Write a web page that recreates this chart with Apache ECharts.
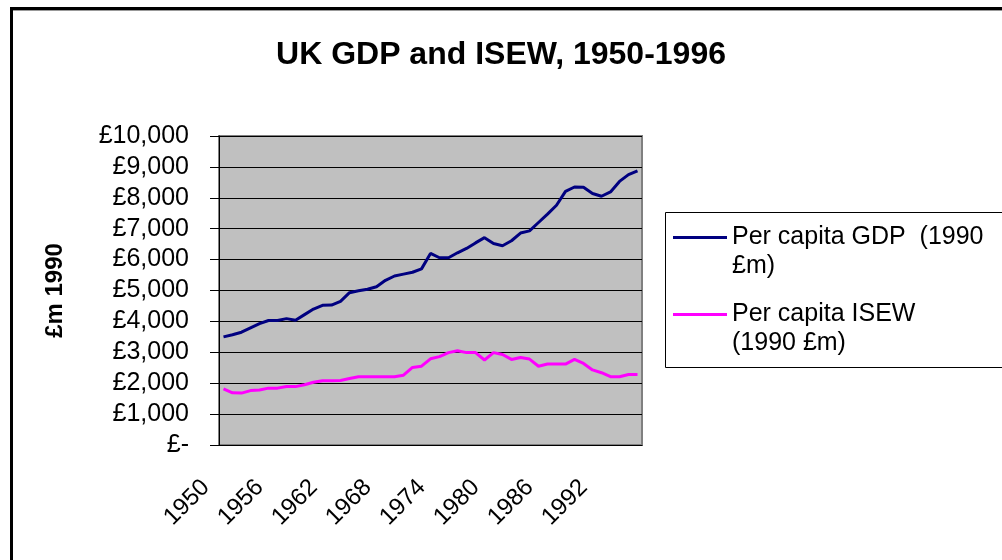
<!DOCTYPE html>
<html>
<head>
<meta charset="utf-8">
<script src="https://cdn.jsdelivr.net/npm/echarts@6/dist/echarts.min.js"></script>
<style>
  html, body { margin: 0; padding: 0; background: #fff; }
  #chart { width: 1002px; height: 560px; }
</style>
</head>
<body>
<div id="chart"></div>
<script>
// Data
var years = ['1950', '1951', '1952', '1953', '1954', '1955', '1956', '1957', '1958', '1959',
             '1960', '1961', '1962', '1963', '1964', '1965', '1966', '1967', '1968', '1969',
             '1970', '1971', '1972', '1973', '1974', '1975', '1976', '1977', '1978', '1979',
             '1980', '1981', '1982', '1983', '1984', '1985', '1986', '1987', '1988', '1989',
             '1990', '1991', '1992', '1993', '1994', '1995', '1996'];

var gdpPerCapita = [3500, 3570, 3650, 3790, 3930, 4030, 4030, 4090, 4040, 4220,
                    4400, 4520, 4530, 4650, 4930, 4990, 5040, 5120, 5330, 5470,
                    5530, 5590, 5700, 6200, 6060, 6060, 6220, 6360, 6540, 6710,
                    6520, 6450, 6610, 6860, 6930, 7200, 7470, 7760, 8210, 8350,
                    8340, 8140, 8050, 8190, 8530, 8750, 8870];

var isewPerCapita = [1820, 1690, 1680, 1760, 1780, 1840, 1840, 1890, 1890, 1950,
                     2030, 2080, 2080, 2090, 2150, 2210, 2210, 2210, 2210, 2210,
                     2260, 2510, 2550, 2790, 2860, 2990, 3050, 2990, 2990, 2750,
                     2990, 2930, 2770, 2830, 2780, 2550, 2620, 2620, 2620, 2770,
                     2640, 2430, 2340, 2210, 2210, 2280, 2280];

var seriesNames = ['Per capita GDP (1990 £m)', 'Per capita ISEW (1990 £m)'];
// leading blank line keeps the icon level with the first text line
var legendLabels = ['\nPer capita GDP  (1990\n£m)', '\nPer capita ISEW\n(1990 £m)'];

var FONT = '"Liberation Sans", Arial, sans-serif';

var myChart = echarts.init(document.getElementById('chart'));

var option = {
    backgroundColor: '#fff',
    animation: false,
    title: {
        text: 'UK GDP and ISEW, 1950-1996',
        left: 'center',
        top: 34,
        textStyle: { fontFamily: FONT, fontSize: 32, fontWeight: 'bold', color: '#000' }
    },
    // outer frame and legend box
    graphic: [
        { type: 'rect', shape: { x: 10, y: 7, width: 1000, height: 3 }, style: { fill: '#000' } },
        { type: 'rect', shape: { x: 13, y: 10, width: 1000, height: 1 }, style: { fill: '#999' } },
        { type: 'rect', shape: { x: 10, y: 7, width: 3, height: 560 }, style: { fill: '#000' } },
        { type: 'rect', shape: { x: 665.5, y: 212.5, width: 400, height: 155 }, style: { fill: 'none', stroke: '#000', lineWidth: 1 } }
    ],
    legend: {
        orient: 'vertical',
        left: 673,
        top: 194,
        padding: 0,
        itemGap: -10,
        itemWidth: 54,
        itemHeight: 3,
        icon: 'rect',
        data: seriesNames,
        formatter: function (name) {
            return legendLabels[seriesNames.indexOf(name)];
        },
        textStyle: {
            fontFamily: FONT,
            fontSize: 25,
            lineHeight: 29,
            color: '#000'
        }
    },
    grid: {
        show: true,
        left: 219,
        right: 360,
        top: 136,
        bottom: 115,
        backgroundColor: '#c0c0c0',
        borderColor: '#808080',
        borderWidth: 2
    },
    xAxis: {
        type: 'category',
        data: years,
        boundaryGap: true,
        axisLine: { lineStyle: { color: '#000', width: 1 } },
        axisTick: { interval: 5, length: 8, lineStyle: { color: '#000' } },
        axisLabel: {
            interval: 5,
            rotate: 45,
            margin: 21,
            padding: [0, 25, 0, 0],
            fontFamily: FONT,
            fontSize: 24,
            color: '#000'
        },
        splitLine: { show: false }
    },
    yAxis: {
        type: 'value',
        min: 0,
        max: 10000,
        interval: 1000,
        name: '£m 1990',
        nameLocation: 'middle',
        nameGap: 152,
        nameTextStyle: { fontFamily: FONT, fontSize: 24, fontWeight: 'bold', color: '#000' },
        axisLine: { show: true, lineStyle: { color: '#000', width: 1 } },
        axisTick: { show: true, length: 9, lineStyle: { color: '#000' } },
        axisLabel: {
            margin: 30,
            fontFamily: FONT,
            fontSize: 25,
            color: '#000',
            formatter: function (v) {
                return v === 0 ? '£-' : '£' + v.toLocaleString('en-GB');
            }
        },
        splitLine: { lineStyle: { color: '#000', width: 1 } }
    },
    series: [{
        name: seriesNames[0],
        type: 'line',
        data: gdpPerCapita,
        symbol: 'none',
        lineStyle: { color: '#000080', width: 3 },
        itemStyle: { color: '#000080' }
    }, {
        name: seriesNames[1],
        type: 'line',
        data: isewPerCapita,
        symbol: 'none',
        lineStyle: { color: '#ff00ff', width: 3 },
        itemStyle: { color: '#ff00ff' }
    }]
};

myChart.setOption(option);
</script>
</body>
</html>
